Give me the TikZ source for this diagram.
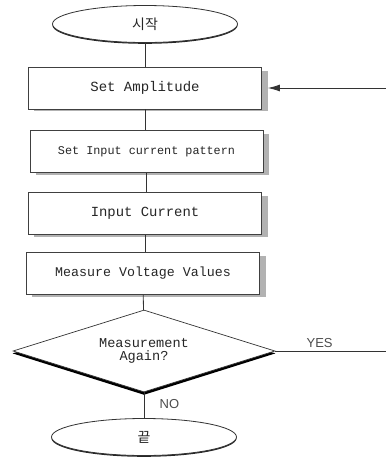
\documentclass[tikz,border=0pt]{standalone}
\usepackage{fontspec}
\setmainfont{Liberation Mono}
\newfontfamily\kfont{Noto Sans CJK KR}
\newfontfamily\lblfont{Liberation Sans}
\usetikzlibrary{shapes.geometric,arrows.meta,backgrounds,calc}

\begin{document}
\begin{tikzpicture}[
        x=1pt, y=1pt,
        every node/.style={font=\fontsize{14}{11}\selectfont, text=black!85},
        term/.style={
            ellipse,
            draw=black!80,
            line width=0.8pt,
            fill=white,
            minimum width=185pt,
            minimum height=37pt
        },
        proc/.style={
            rectangle,
            draw=black!75,
            line width=0.8pt,
            fill=white,
            minimum width=233pt,
            minimum height=42pt
        },
        decide/.style={
            diamond,
            aspect=3.2,
            draw=black!80,
            line width=0.7pt,
            fill=white,
            align=center,
            inner sep=0pt,
            minimum width=262pt,
            minimum height=82pt
        },
        flow/.style={draw=black!80, line width=0.8pt},
        answer/.style={font=\lblfont\fontsize{13}{13}\selectfont, text=black!70}
    ]
    \useasboundingbox (0,0) rectangle (386,-459);

    % Terminals
    \node[term] (start) at (145,-24) {\kfont\fontsize{14}{14}\selectfont 시작};
    \node[term] (stop) at (144,-437) {\kfont\fontsize{14}{14}\selectfont 끝};

    % Process steps
    \node[proc] (amp) at (145,-88) {Set Amplitude};
    \node[proc, font=\fontsize{11.8}{11}\selectfont] (pat) at (146.5,-151.5) {Set Input current pattern};
    \node[proc, font=\fontsize{13.9}{11}\selectfont] (cur) at (145,-213.5) {Input Current};
    \node[proc, font=\fontsize{13.3}{11}\selectfont] (volt) at (143,-273.5) {Measure Voltage Values};

    % Decision
    \node[decide, font=\fontsize{13.6}{12.5}\selectfont] (again) at (144,-351) {Measurement\\Again?};

    % Shadows under the boxes, the diamond and the terminals
    \begin{scope}[on background layer]
        \fill[black!30] ($(amp.south west)+(6,-2)$) rectangle ($(amp.north east)+(6,-4)$);
        \fill[black!30] ($(pat.south west)+(6,-2)$) rectangle ($(pat.north east)+(6,-4)$);
        \fill[black!30] ($(cur.south west)+(6,-2)$) rectangle ($(cur.north east)+(6,-4)$);
        \fill[black!30] ($(volt.south west)+(6,-2)$) rectangle ($(volt.north east)+(6,-4)$);
        \fill[black] ($(again.west)+(0,-2.4)$) -- ($(again.south)+(0,-2.4)$)
            -- ($(again.east)+(0,-2.4)$) -- ($(again.north)+(0,-2.4)$) -- cycle;
        \fill[black!85] ($(start.center)+(0,-1.3)$) ellipse (92.5 and 18.5);
        \fill[black!85] ($(stop.center)+(0,-1.3)$) ellipse (92.5 and 18.5);
    \end{scope}

    % Loop ends at the page edge
    \coordinate (yes) at (386,-351);
    \coordinate (back) at (386,-88);

    \draw[flow] (start) -- (amp);
    \draw[flow] (amp) -- (amp |- pat.north);
    \draw[flow] (pat) -- (cur.north -| pat.south);
    \draw[flow] (cur) -- (volt.north -| cur.south);
    \draw[flow] (volt) -- (again);
    \draw[flow] (again) -- node[answer, right, xshift=12pt, pos=0.45] {NO} (stop);
    \draw[flow] (again.east) -- node[answer, above, pos=0.4] {YES} (yes);
    \draw[flow, -{Latex[length=12pt,width=7pt]}, shorten >=6pt] (back) -- (amp.east);
\end{tikzpicture}
\end{document}
